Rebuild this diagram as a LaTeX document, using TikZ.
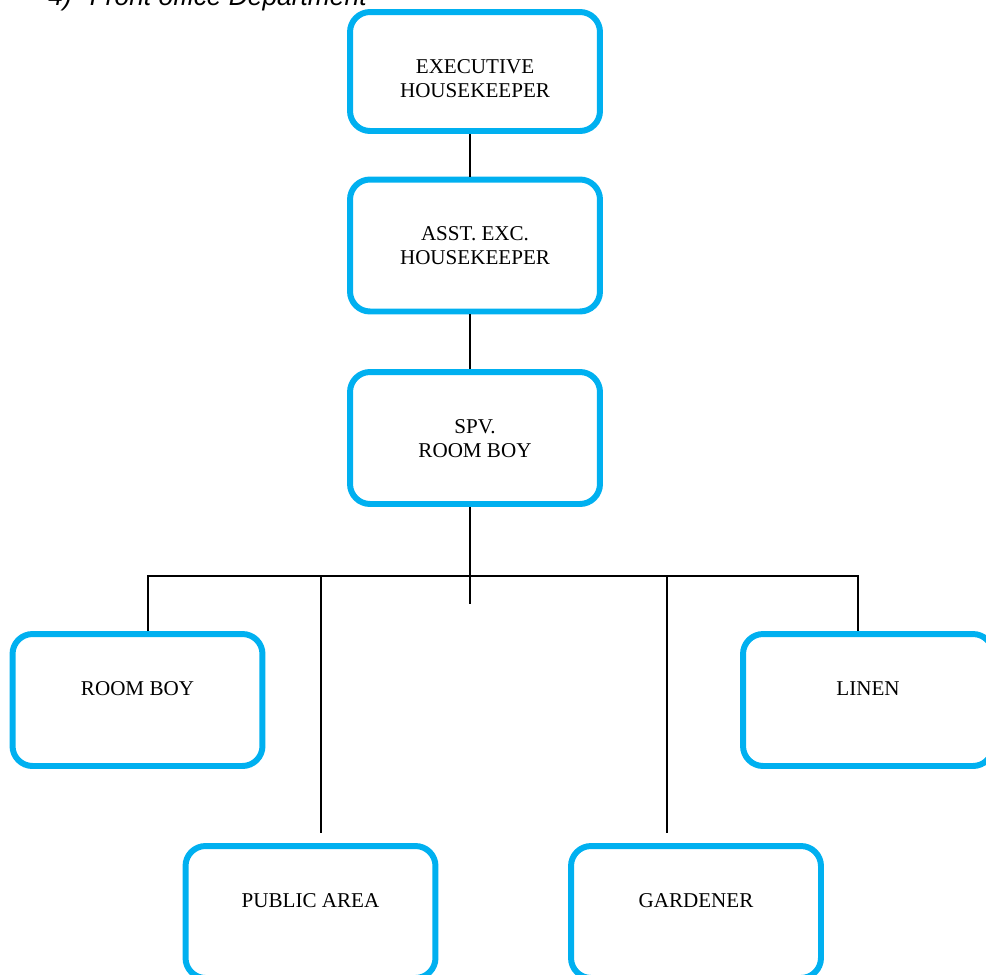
\documentclass[tikz,border=0pt]{standalone}
\usepackage{fontspec}
\setmainfont{Liberation Serif}
\newfontfamily\titulofont{Liberation Sans}
\definecolor{azulcaja}{RGB}{0,176,240}

\providecommand{\puesto}[4]{
    \node[caja, minimum height=#3] (#1) at (#2) {};
    \node[rotulo] (#1T) at ([yshift=-1.0cm]#1.north) {#4};
}

\begin{document}
\begin{tikzpicture}[
    x=0.02cm, y=-0.02cm,
    caja/.style={draw=azulcaja, line width=3.4pt, rounded corners=0.4cm, minimum width=5cm, inner sep=0pt},
    rotulo/.style={anchor=north, align=center, inner sep=0pt, font=\fontsize{12}{13.7}\selectfont},
    enlace/.style={line width=0.9pt}
]
    \useasboundingbox (0,0) rectangle (986,974);

    % TITULO DE LA SECCION
    \node[anchor=base west, inner sep=0pt, font=\titulofont\itshape\fontsize{15}{18}\selectfont] (titulo) at (48,5.5) {4)\hspace{0.36cm}Front office Department};

    % NIVELES SUPERIORES
    \puesto{exec}{475,71.5}{2.38cm}{EXECUTIVE\\HOUSEKEEPER}
    \puesto{asst}{475,245.5}{2.64cm}{ASST. EXC.\\HOUSEKEEPER}
    \puesto{spv}{475,438}{2.64cm}{SPV.\\ROOM BOY}

    % SUBORDINADOS
    \puesto{roomboy}{137.5,700}{2.64cm}{ROOM BOY}
    \puesto{linen}{868,700}{2.64cm}{LINEN}
    \puesto{public}{310.5,912}{2.64cm}{PUBLIC AREA}
    \puesto{gardener}{696,912}{2.64cm}{GARDENER}

    % TRONCO Y BARRA HORIZONTAL
    \coordinate (tronco) at (470,576);
    \coordinate (troncoFin) at (470,604);
    \coordinate (barraIzq) at (148,576);
    \coordinate (barraDer) at (858,576);
    \coordinate (bajadaPub) at (321,576);
    \coordinate (bajadaGar) at (667,576);
    \coordinate (pubFin) at (321,833);
    \coordinate (garFin) at (667,833);

    \draw[enlace] (exec.south -| tronco) -- (asst.north -| tronco);
    \draw[enlace] (asst.south -| tronco) -- (spv.north -| tronco);
    \draw[enlace] (spv.south -| tronco) -- (troncoFin);
    \draw[enlace] (barraIzq |- roomboy.north) -- (barraIzq) -- (barraDer) -- (barraDer |- linen.north);

    % BAJADAS LARGAS
    \draw[enlace] (bajadaPub) -- (pubFin);
    \draw[enlace] (bajadaGar) -- (garFin);

\end{tikzpicture}
\end{document}
